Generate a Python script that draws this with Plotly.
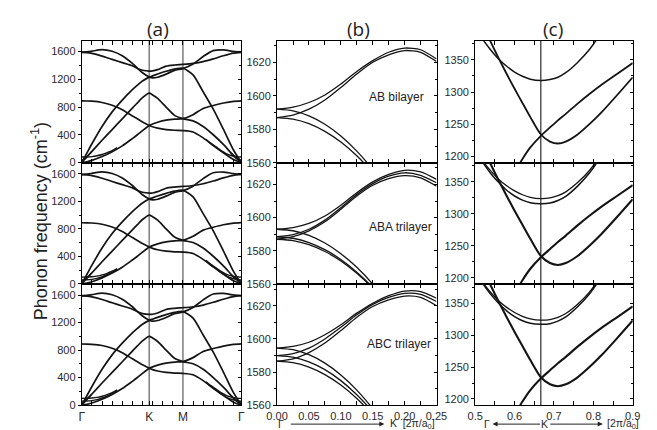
import plotly.graph_objects as go

# ---------------- data: panel (a) full dispersion (path coordinate in 2pi/a0) ----------------
K_A = [0, 0.05, 0.1, 0.2, 0.3, 0.4, 0.5, 0.55, 0.6, 0.6667, 0.7, 0.75, 0.8333, 0.9167, 1.0,
       1.1, 1.2, 1.3, 1.4, 1.5, 1.5774]
LO_A = [1593, 1596, 1606, 1628, 1605, 1540, 1430, 1362, 1295, 1234, 1220, 1230, 1275, 1330, 1355,
        1420, 1530, 1615, 1625, 1603, 1593]
TO_A = [1588, 1585, 1574, 1536, 1488, 1442, 1395, 1357, 1331, 1318, 1321, 1340, 1390, 1407, 1416,
        1430, 1455, 1495, 1540, 1578, 1590]
LA_A = [0, 135, 270, 520, 730, 900, 1050, 1115, 1175, 1232, 1250, 1276, 1316, 1348, 1360,
        1265, 1020, 770, 480, 180, 0]
TA_A = [0, 80, 160, 320, 475, 630, 785, 860, 935, 1000, 975, 925, 800, 680, 632,
        600, 520, 400, 260, 100, 0]
ZA_A = [0, 10, 30, 85, 155, 240, 345, 400, 460, 535, 555, 580, 610, 625, 632,
        690, 780, 822, 858, 882, 889]
ZO_A = [888, 887, 884, 866, 826, 762, 672, 630, 585, 535, 515, 495, 475, 465, 460,
        440, 355, 245, 140, 42, 0]

# low-frequency interlayer modes near Gamma
K_LOW_L = [0, 0.05, 0.1, 0.15, 0.2, 0.25, 0.3, 0.35]
K_LOW_R = [1.2274, 1.2774, 1.3274, 1.3774, 1.4274, 1.4774, 1.5274, 1.5774]
BR_AB_L = [78, 79, 85, 97, 115, 142, 172, 215]
BR_AB_R = [335, 275, 225, 170, 128, 100, 84, 78]
BR_T1_L = [97, 98, 102, 111, 128, 152, 182, 219]
BR_T1_R = [340, 282, 232, 180, 140, 115, 101, 97]
BR_T2_L = [57, 58, 64, 79, 102, 131, 165, 205]
BR_T2_R = [330, 270, 218, 162, 116, 84, 64, 57]
K_SH_L = [0, 0.025, 0.05, 0.075, 0.1]
K_SH_R = [1.4774, 1.5024, 1.5274, 1.5524, 1.5774]
SH_AB_L = [32, 50, 85, 122, 162]
SH_AB_R = [135, 100, 70, 45, 32]
SH_T_L = [39, 55, 88, 123, 162]
SH_T_R = [135, 102, 73, 50, 39]

# ---------------- data: panel (b) G-band region near Gamma ----------------
K_B = [0, 0.025, 0.05, 0.075, 0.1, 0.125, 0.15, 0.175, 0.2, 0.225, 0.25]
K_BD = [0, 0.025, 0.05, 0.075, 0.1, 0.125, 0.15, 0.175]
AB_UP1 = [1592, 1593.2, 1596, 1600.5, 1607, 1614.5, 1621, 1626, 1628.5, 1627.5, 1622]
AB_UP2 = [1587, 1588.5, 1592, 1597.5, 1605, 1613, 1620, 1624.5, 1627, 1626, 1620.5]
AB_DN1 = [1592, 1591, 1588, 1583, 1576, 1567, 1556, 1543]
AB_DN2 = [1587, 1586.1, 1583.4, 1578.8, 1572.4, 1564.2, 1554, 1542]
ABA_UP1 = [1593, 1594, 1596.5, 1601, 1607.5, 1615, 1621.5, 1626, 1628.5, 1627.5, 1623]
ABA_UP2 = [1588.5, 1589.8, 1593, 1598.5, 1606, 1614, 1620.5, 1625, 1627, 1625.5, 1621]
ABA_UP3 = [1587, 1588.5, 1592, 1597.5, 1605, 1613, 1619.5, 1623.5, 1625.3, 1624, 1619]
ABA_DN1 = [1593, 1592.1, 1589.3, 1584.7, 1578.3, 1570.1, 1560, 1548]
ABA_DN2 = [1588.5, 1587.6, 1585, 1580.7, 1574.8, 1567.2, 1558, 1546.5]
ABA_DN3 = [1587, 1586.2, 1583.7, 1579.6, 1573.9, 1566.5, 1557.5, 1546.5]
ABC_UP1 = [1594.5, 1595.5, 1598, 1602.5, 1608.5, 1615.5, 1621.5, 1626, 1628.8, 1628.5, 1624.5]
ABC_UP2 = [1590, 1591.2, 1594.5, 1600, 1607, 1614.5, 1620.8, 1625, 1627.4, 1626.8, 1622.5]
ABC_UP3 = [1586.6, 1588, 1591.8, 1597.5, 1605, 1613, 1619.5, 1623.5, 1625.8, 1625, 1620]
ABC_DN1 = [1594.5, 1593.5, 1590.5, 1585.4, 1578.3, 1569.2, 1558, 1545]
ABC_DN2 = [1590, 1589.1, 1586.2, 1581.5, 1574.9, 1566.4, 1556.1, 1543.8]
ABC_DN3 = [1586.6, 1585.7, 1583, 1578.5, 1572.2, 1564.1, 1554.2, 1542.6]

# ---------------- data: panel (c) D-band region near K ----------------
K_C = [0.5, 0.52, 0.54, 0.56, 0.58, 0.6, 0.62, 0.64, 0.6667, 0.69, 0.71, 0.73, 0.76, 0.79, 0.82, 0.86, 0.9]
LO_C = [1430, 1403, 1377, 1352, 1328, 1305, 1283, 1261, 1234, 1223, 1220, 1223, 1234, 1250, 1268, 1295, 1323]
LA_C = [1050, 1078, 1104, 1129, 1153, 1175, 1196, 1214, 1232, 1245, 1256, 1266, 1282, 1297, 1311, 1328, 1345]
TO_C_AB = [1400, 1381, 1365, 1351, 1340, 1331, 1324.5, 1320, 1318, 1319.5, 1323, 1330, 1346, 1366, 1392, 1430, 1470]
TO_C_ABA_HI = [1400, 1382, 1367, 1354, 1344, 1336, 1330, 1326, 1324, 1325, 1328.5, 1334.5, 1349, 1368, 1393, 1430, 1470]
TO_C_ABA_LO = [1399, 1380, 1363, 1349, 1337, 1328, 1321.5, 1317.5, 1316, 1317, 1321, 1327.5, 1343.5, 1364, 1390, 1428, 1468]
TO_C_ABC_HI = [1400, 1382, 1366.5, 1353.5, 1343.5, 1335.5, 1329.5, 1325.5, 1323.5, 1324.5, 1328, 1334, 1348.5, 1367.5, 1392.5, 1430, 1470]
TO_C_ABC_LO = [1399, 1380, 1363.5, 1349.5, 1338, 1329, 1322.5, 1318.5, 1317, 1318, 1322, 1328.5, 1344.5, 1364.5, 1390.5, 1428, 1468]

A_TICKVALS = [0, 0.6667, 1.0, 1.5774]
A_TICKTEXT = ['Γ', 'K', 'M', 'Γ']
K_POINT = 0.6667
M_POINT = 1.0
STACK_LABELS = ['AB bilayer', 'ABA trilayer', 'ABC trilayer']

# ---------------- figure ----------------
W, H = 657, 430
COLS = [(65 / W, 230 / W), (267 / W, 432 / W), (472 / W, 635 / W)]
ROWS = [(1 - 157 / H, 1 - 33 / H), (1 - 280 / H, 1 - 157 / H), (1 - 403 / H, 1 - 280 / H)]
LINE = '#141414'
TICKFONT = dict(family='Liberation Sans, Arial', size=11, color='#2a2a2a')

fig = go.Figure()


def sfx(i):
    return '' if i == 1 else str(i)


def add_curve(idx, xs, ys, w=1.5):
    fig.add_trace(go.Scatter(x=xs, y=ys, mode='lines',
                             line=dict(color=LINE, width=w, shape='spline', smoothing=0.7),
                             xaxis='x' + sfx(idx), yaxis='y' + sfx(idx),
                             hoverinfo='skip', showlegend=False))


for r in range(3):
    ia, ib, ic = r * 3 + 1, r * 3 + 2, r * 3 + 3
    # panel (a)
    for br in (LO_A, TO_A, LA_A, TA_A, ZA_A, ZO_A):
        add_curve(ia, K_A, br, 1.7)
    if r == 0:
        add_curve(ia, K_LOW_L, BR_AB_L, 1.4)
        add_curve(ia, K_LOW_R, BR_AB_R, 1.4)
        add_curve(ia, K_SH_L, SH_AB_L, 1.4)
        add_curve(ia, K_SH_R, SH_AB_R, 1.4)
    else:
        for lo, ro in ((BR_T1_L, BR_T1_R), (BR_T2_L, BR_T2_R)):
            add_curve(ia, K_LOW_L, lo, 1.4)
            add_curve(ia, K_LOW_R, ro, 1.4)
        add_curve(ia, K_SH_L, SH_T_L, 1.4)
        add_curve(ia, K_SH_R, SH_T_R, 1.4)
    # panel (b)
    if r == 0:
        ups, dns = (AB_UP1, AB_UP2), (AB_DN1, AB_DN2)
    elif r == 1:
        ups, dns = (ABA_UP1, ABA_UP2, ABA_UP3), (ABA_DN1, ABA_DN2, ABA_DN3)
    else:
        ups, dns = (ABC_UP1, ABC_UP2, ABC_UP3), (ABC_DN1, ABC_DN2, ABC_DN3)
    for u in ups:
        add_curve(ib, K_B, u, 1.3)
    for d in dns:
        add_curve(ib, K_BD, d, 1.3)
    # panel (c)
    add_curve(ic, K_C, LO_C, 1.8 if r == 0 else 2.1)
    add_curve(ic, K_C, LA_C, 1.8 if r == 0 else 2.1)
    if r == 0:
        add_curve(ic, K_C, TO_C_AB, 1.5)
    elif r == 1:
        add_curve(ic, K_C, TO_C_ABA_HI, 1.3)
        add_curve(ic, K_C, TO_C_ABA_LO, 1.5)
    else:
        add_curve(ic, K_C, TO_C_ABC_HI, 1.3)
        add_curve(ic, K_C, TO_C_ABC_LO, 1.5)

XCFG = [
    dict(range=[0, 1.5774], tickmode='array', tickvals=A_TICKVALS, ticktext=A_TICKTEXT,
         minor=dict(ticks='inside', ticklen=2, tick0=0, dtick=0.1, tickcolor='black')),
    dict(range=[0, 0.25], tickmode='linear', tick0=0, dtick=0.05, tickformat='.2f',
         minor=dict(ticks='inside', ticklen=2, tick0=0, dtick=0.025, tickcolor='black')),
    dict(range=[0.5, 0.9], tickmode='linear', tick0=0.5, dtick=0.1, tickformat='.1f',
         minor=dict(ticks='inside', ticklen=2, tick0=0.5, dtick=0.05, tickcolor='black')),
]
YR = [[-5, 1760], [1560, 1633], [1190, 1380]]
YT = [(0, 400, 200), (1560, 20, 10), (1200, 50, 25)]

layout = dict(width=W, height=H, autosize=False, margin=dict(l=0, r=0, t=0, b=0),
              paper_bgcolor='white', plot_bgcolor='white', showlegend=False)
shapes = []
for idx in range(1, 10):
    r, c = (idx - 1) // 3, (idx - 1) % 3
    layout['xaxis' + sfx(idx)] = dict(
        domain=COLS[c], anchor='y' + sfx(idx), showline=True, linecolor='black', linewidth=1,
        mirror='allticks', ticks='inside', ticklen=4, tickcolor='black', tickwidth=1,
        showgrid=False, zeroline=False, showticklabels=(r == 2),
        tickfont=dict(family='Liberation Sans, Arial', size=12 if c == 0 else 11, color='#2a2a2a'),
        **XCFG[c])
    t0, dt, mdt = YT[c]
    layout['yaxis' + sfx(idx)] = dict(
        domain=ROWS[r], anchor='x' + sfx(idx), range=YR[c], showline=True, linecolor='black',
        linewidth=1, mirror=True, ticks='outside', ticklen=3, tickcolor='black',
        tickmode='linear', tick0=t0, dtick=dt, showgrid=False, zeroline=False,
        tickfont=TICKFONT,
        minor=dict(ticks='outside', ticklen=2, tick0=t0, dtick=mdt, tickcolor='black'))
    layout['yaxis' + str(idx + 9)] = dict(
        overlaying='y' + sfx(idx), side='right', anchor='x' + sfx(idx), range=YR[c],
        tickmode='linear', tick0=t0, dtick=dt, ticks='inside', ticklen=3, tickcolor='black',
        showticklabels=False, showline=False, showgrid=False, zeroline=False,
        minor=dict(ticks='inside', ticklen=2, tick0=t0, dtick=mdt, tickcolor='black'))
    fig.add_trace(go.Scatter(x=[None], y=[None], xaxis='x' + sfx(idx), yaxis='y' + str(idx + 9),
                             mode='lines', showlegend=False, hoverinfo='skip'))
    if c == 0:
        for xv in (K_POINT, M_POINT):
            shapes.append(dict(type='line', xref='x' + sfx(idx), yref='y' + sfx(idx) + ' domain',
                               x0=xv, x1=xv, y0=0, y1=1, layer='below',
                               line=dict(color='#858585', width=1.6)))
    if c == 2:
        shapes.append(dict(type='line', xref='x' + sfx(idx), yref='y' + sfx(idx) + ' domain',
                           x0=K_POINT, x1=K_POINT, y0=0, y1=1, layer='below',
                           line=dict(color='black', width=1)))
layout['shapes'] = shapes


def px(x):
    return x / W


def py(y):
    return 1 - y / H


def arrow(head_x, tail_x, y):
    return dict(text='', x=px(head_x), y=py(y), ax=tail_x - head_x, ay=0, xref='paper',
                yref='paper', axref='pixel', ayref='pixel', showarrow=True, arrowhead=2,
                arrowsize=1, arrowwidth=1, arrowcolor='#222')


ann = []
for lab, xc in (('(a)', 144), ('(b)', 351), ('(c)', 553)):
    ann.append(dict(text=lab, x=px(xc), y=py(21), xref='paper', yref='paper', showarrow=False,
                    xanchor='center', yanchor='middle',
                    font=dict(family='Open Sans', size=19, color='#222')))
for lab, xr, yc in zip(STACK_LABELS, (421, 429, 428), (90, 222, 341)):
    ann.append(dict(text=lab, x=px(xr), y=py(yc), xref='paper', yref='paper', showarrow=False,
                    xanchor='right', yanchor='middle',
                    font=dict(family='Liberation Sans, Arial', size=12, color='#222')))
ann.append(dict(text='Phonon frequency (cm<sup>-1</sup>)', x=px(22), y=py(216), xref='paper',
                yref='paper', showarrow=False, textangle=-90, xanchor='center', yanchor='middle',
                font=dict(family='Liberation Sans, Arial', size=18, color='#222')))
BOT_FONT = dict(family='Liberation Sans, Arial', size=10.5, color='#2a2a2a')
# bottom of (b)
ann.append(dict(text='Γ', x=px(271), y=py(422), xref='paper', yref='paper', showarrow=False,
                xanchor='center', yanchor='middle', font=BOT_FONT))
ann.append(arrow(378, 283, 422))
ann.append(dict(text='K  [2π/a<sub>0</sub>]', x=px(382), y=py(422), xref='paper', yref='paper',
                showarrow=False, xanchor='left', yanchor='middle', font=BOT_FONT))
# bottom of (c)
ann.append(dict(text='Γ', x=px(484), y=py(422), xref='paper', yref='paper', showarrow=False,
                xanchor='center', yanchor='middle', font=BOT_FONT))
ann.append(arrow(490, 539, 422))
ann.append(dict(text='K', x=px(544), y=py(422), xref='paper', yref='paper', showarrow=False,
                xanchor='center', yanchor='middle', font=BOT_FONT))
ann.append(arrow(604, 550, 422))
ann.append(dict(text='[2π/a<sub>0</sub>]', x=px(606), y=py(422), xref='paper', yref='paper',
                showarrow=False, xanchor='left', yanchor='middle', font=BOT_FONT))
layout['annotations'] = ann

fig.update_layout(**layout)
fig.write_html('out.html')
